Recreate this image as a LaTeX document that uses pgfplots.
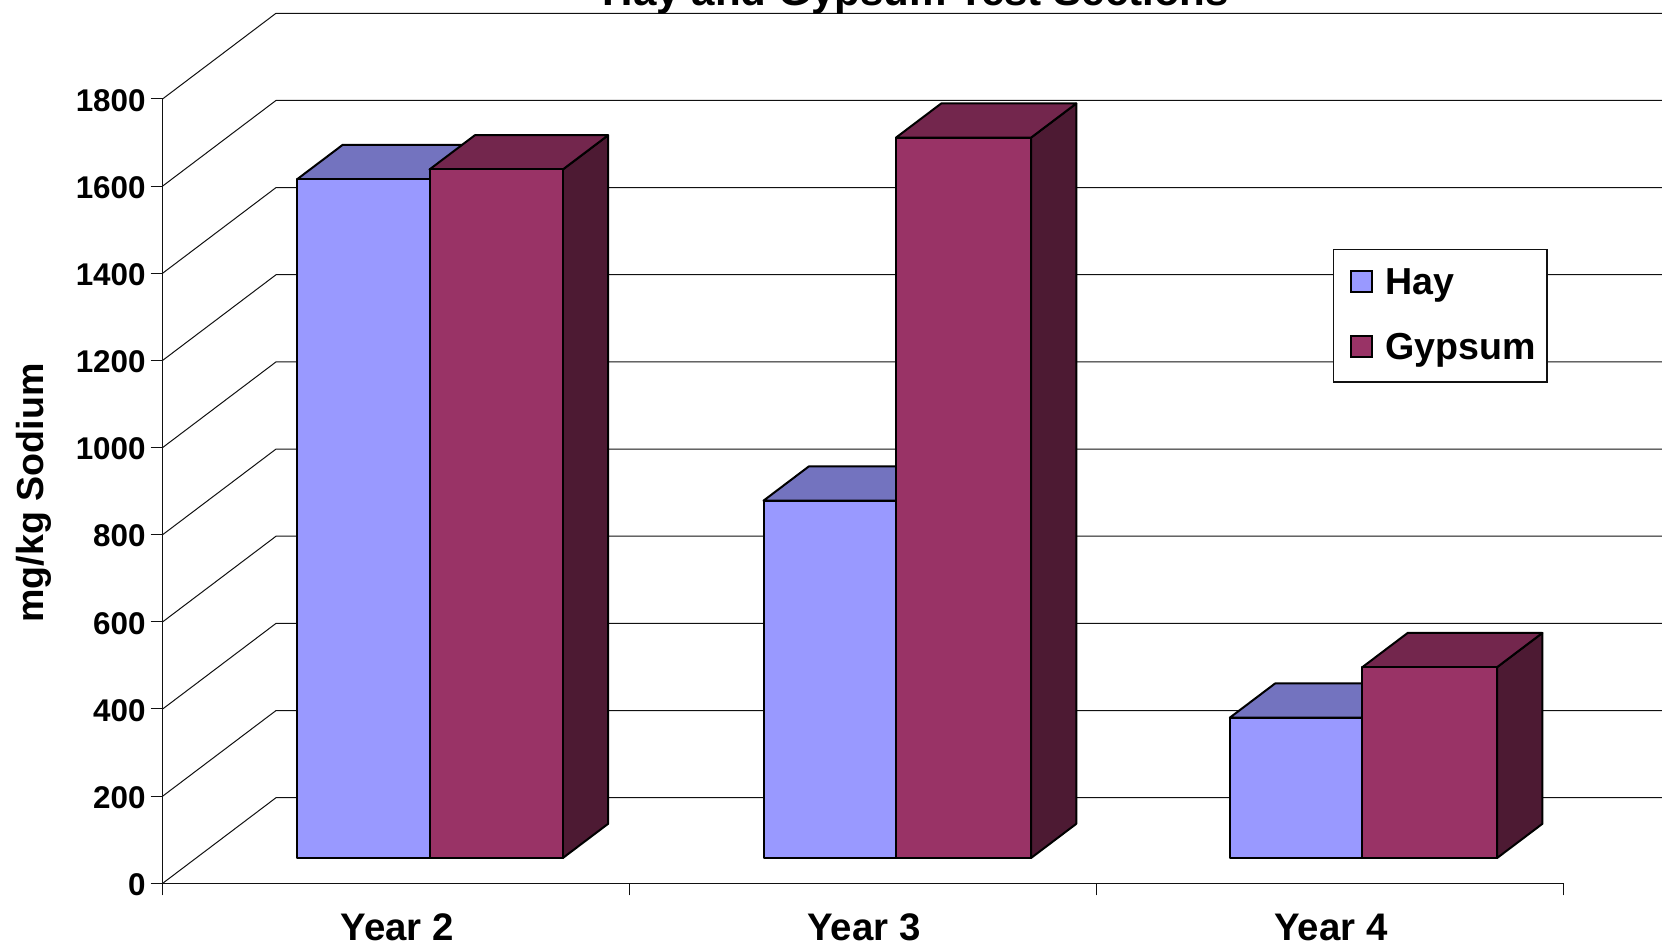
\documentclass[border=0pt]{standalone}
\usepackage{fontspec}
\setmainfont{Liberation Sans}
\usepackage{pgfplots}
\pgfplotsset{compat=1.18}

\definecolor{hayfront}{HTML}{9999FF}
\definecolor{haytop}{HTML}{7373BF}
\definecolor{hayside}{HTML}{4D4D80}
\definecolor{gypfront}{HTML}{993366}
\definecolor{gyptop}{HTML}{73264D}
\definecolor{gypside}{HTML}{4D1A33}
\definecolor{rulecol}{HTML}{111111}

% Oblique depth of the bars, and the height of their base above the axis floor
\newcommand{\basev}{58.0}
\newcommand{\depthx}{0.0970}
\newcommand{\depthy}{78.5}

% A box with a front, top and side face: left edge, right edge, value, three colours
\newcommand{\boxbar}[6]{%
  \pgfmathsetmacro{\ytop}{\basev+#3}%
  \pgfmathsetmacro{\xbl}{#1+\depthx}%
  \pgfmathsetmacro{\xbr}{#2+\depthx}%
  \pgfmathsetmacro{\ybk}{\ytop+\depthy}%
  \pgfmathsetmacro{\ybs}{\basev+\depthy}%
  \addplot[forget plot, draw=black, line width=1pt, line join=round, fill=#6]
    coordinates {(#2,\basev) (\xbr,\ybs) (\xbr,\ybk) (#2,\ytop)} -- cycle;
  \addplot[forget plot, draw=black, line width=1pt, line join=round, fill=#5]
    coordinates {(#1,\ytop) (\xbl,\ybk) (\xbr,\ybk) (#2,\ytop)} -- cycle;
  \addplot[forget plot, draw=black, line width=1pt, line join=round, fill=#4]
    coordinates {(#1,\basev) (#1,\ytop) (#2,\ytop) (#2,\basev)} -- cycle;
}
% One gridline level: front value on the wall, value on the back plane
\newcommand{\gridlevel}[2]{%
  \addplot[forget plot, draw=rulecol, line width=0.5pt]
    coordinates {(0,#1) (0.2427,#2) (3.2112,#2)};
}

\begin{document}
\begin{tikzpicture}[x=1pt,y=1pt]
\path[use as bounding box] (0,0) rectangle (831,471);
\begin{axis}[
  at={(81.35pt,29.35pt)}, anchor=origin,
  scale only axis, width=749.65pt, height=441.35pt,
  xmin=0, xmax=3.2112, ymin=0, ymax=2025.5,
  clip=false,
  axis lines*=left,
  axis line style={draw=none},
  tick align=outside,
  major tick length=6pt,
  tick style={draw=rulecol, line width=0.5pt},
  ytick={0,200,400,600,800,1000,1200,1400,1600,1800},
  xtick={0,1,2,3},
  xticklabels={,,,},
  extra x ticks={0.5,1.5,2.5},
  extra x tick labels={Year 2,Year 3,Year 4},
  extra x tick style={major tick length=0pt, tick style={draw=none}},
  /pgf/number format/assume math mode=true,
  /pgf/number format/1000 sep={},
  y tick label style={font=\fontsize{15.7}{18}\selectfont\bfseries, xshift=1pt, yshift=-0.7pt},
  x tick label style={font=\fontsize{19.2}{22}\selectfont\bfseries, anchor=base, yshift=-28.5pt, xshift=0.5pt, inner sep=0pt},
  ylabel={mg/kg Sodium},
  ylabel style={font=\fontsize{18.8}{22}\selectfont\bfseries, at={(axis cs:-0.2757,895.6)}, anchor=center},
  title={Hay and Gypsum Test Sections},
  title style={font=\fontsize{21.05}{24}\selectfont\bfseries, at={(axis cs:1.609,2011.7)}, anchor=base, inner sep=0pt, yshift=-5.3pt, xshift=1pt},
  legend style={
    at={(axis cs:2.5065,1455)}, anchor=north west,
    draw=rulecol, line width=0.6pt, fill=white,
    font=\fontsize{18.8}{22}\selectfont\bfseries,
    inner xsep=4.5pt, inner ysep=8.5pt,
    row sep=16pt,
    nodes={anchor=west, inner sep=1pt, yshift=-1pt},
    legend cell align=left,
  },
]
% Legend keys
\addlegendimage{legend image code/.code={\path[draw=none] (-3.5pt,0pt) -- (17pt,0pt);\draw[draw=black, line width=1pt, fill=hayfront] (0.5pt,-5.25pt) rectangle (11pt,5.25pt);}}
\addlegendentry{Hay}
\addlegendimage{legend image code/.code={\path[draw=none] (-3.5pt,0pt) -- (17pt,0pt);\draw[draw=black, line width=1pt, fill=gypfront] (0.5pt,-5.25pt) rectangle (11pt,5.25pt);}}
\addlegendentry{Gypsum}

% Wall and back-plane gridlines
\gridlevel{0}{196.4}
\gridlevel{200}{396.4}
\gridlevel{400}{596.4}
\gridlevel{600}{796.4}
\gridlevel{800}{996.4}
\gridlevel{1000}{1196.4}
\gridlevel{1200}{1396.4}
\gridlevel{1400}{1596.4}
\gridlevel{1600}{1796.4}
\gridlevel{1800}{1996.4}

% Front edges of the axes
\addplot[forget plot, draw=rulecol, line width=0.5pt] coordinates {(0,0) (0,1800)};
\addplot[forget plot, draw=rulecol, line width=0.5pt] coordinates {(0,0) (3,0)};

% Year 2
\boxbar{0.2885}{0.5715}{1558}{hayfront}{haytop}{hayside}
\boxbar{0.5715}{0.8570}{1580}{gypfront}{gyptop}{gypside}
% Year 3
\boxbar{1.2868}{1.5705}{820}{hayfront}{haytop}{hayside}
\boxbar{1.5705}{1.8598}{1653}{gypfront}{gyptop}{gypside}
% Year 4
\boxbar{2.2855}{2.5695}{322}{hayfront}{haytop}{hayside}
\boxbar{2.5695}{2.8580}{438}{gypfront}{gyptop}{gypside}
\end{axis}
\end{tikzpicture}
\end{document}
